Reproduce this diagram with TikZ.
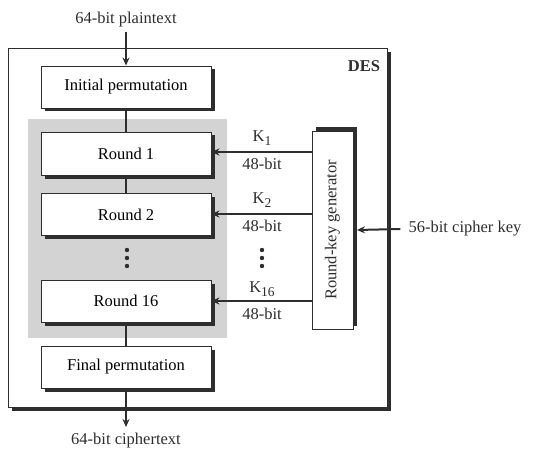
\documentclass[tikz,border=0pt]{standalone}
\usepackage{fontspec}
\setmainfont{Liberation Serif}
\usetikzlibrary{arrows.meta,shadows,calc}
\definecolor{ln}{HTML}{2E2E2E}
\definecolor{grayfill}{HTML}{D3D3D3}
\newcommand{\ksub}[1]{K\raisebox{-0.45ex}{\fontsize{13.5}{14}\selectfont #1}}
\begin{document}
\begin{tikzpicture}[x=1pt,y=-1pt,
  font=\fontsize{16.5}{19}\selectfont,
  box/.style={draw=ln,line width=0.9pt,fill=white,minimum width=170pt,minimum height=42pt,inner sep=0pt,
    drop shadow={shadow xshift=3.5pt,shadow yshift=-3.5pt,fill=ln,opacity=1}},
  arr/.style={draw=ln,line width=2pt,-{Stealth[length=8pt,width=7pt]}},
  conn/.style={draw=ln,line width=2pt},
  lbl/.style={inner sep=0pt,text=ln}]
\useasboundingbox (0,0) rectangle (539,460);
\node[draw=ln,line width=0.9pt,fill=white,minimum width=379pt,minimum height=359pt,inner sep=0pt,
  drop shadow={shadow xshift=4pt,shadow yshift=-4pt,fill=ln,opacity=1}] (des) at (197.5,227.5) {};
\node[lbl,font=\fontsize{16.5}{19}\selectfont\bfseries] (deslbl) at (364,66) {DES};
\node[fill=grayfill,minimum width=199pt,minimum height=219pt,inner sep=0pt] (gray) at (127.5,228.5) {};
\node[box] (ip) at (126,87) {\raisebox{-2pt}{Initial permutation}};
\node[box,minimum height=43pt] (r1) at (126,153.5) {\raisebox{-2pt}{Round 1}};
\node[box] (r2) at (126,214.5) {\raisebox{-2pt}{Round 2}};
\node[box] (r16) at (126,301) {\raisebox{-2pt}{Round 16}};
\node[box] (fp) at (126,367) {\raisebox{-2pt}{Final permutation}};
\node[draw=ln,line width=0.9pt,fill=white,minimum width=41pt,minimum height=198pt,inner sep=0pt,
  drop shadow={shadow xshift=3.5pt,shadow yshift=3.5pt,fill=ln,opacity=1}] (rkg) at (332.5,230) {};
\node[lbl,rotate=90] (rkglbl) at (rkg.center) {Round-key generator};
\node[lbl] (pt) at (126,20) {64-bit plaintext};
\node[lbl] (ct) at (126,441) {64-bit ciphertext};
\node[lbl] (ck) at (465,229) {56-bit cipher key};
\node[lbl] (k1) at (262,138) {\ksub{1}};
\node[lbl] (b1) at (262,164) {48-bit};
\node[lbl] (k2) at (262,200) {\ksub{2}};
\node[lbl] (b2) at (262,226) {48-bit};
\node[lbl] (k16) at (262,289) {\ksub{16}};
\node[lbl] (b16) at (262,314) {48-bit};
\foreach \x/\n in {127/a,262/b}{
  \foreach \y/\m in {250/1,258/2,266/3}{
    \fill[ln] (\x,\y) circle (2.2pt) coordinate (dot\n\m);
  }
}
\coordinate (ptend) at (126,32);
\coordinate (ctend) at (126,427);
\draw[arr] (ptend) -- (ip.north);
\draw[conn] (ip.south) -- (r1.north);
\draw[conn] (r1.south) -- (r2.north);
\draw[arr] (fp.south) -- (ctend);
\draw[conn] (r16.south) -- (fp.north);
\draw[arr] (rkg.west |- 0,152) -- (r1.east |- 0,152);
\draw[arr] (rkg.west |- 0,214) -- (r2.east |- 0,214);
\draw[arr] (rkg.west |- 0,301) -- (r16.east |- 0,301);
\draw[arr] ([xshift=-8pt]ck.west) -- ([xshift=3.5pt]rkg.east);
\end{tikzpicture}
\end{document}
